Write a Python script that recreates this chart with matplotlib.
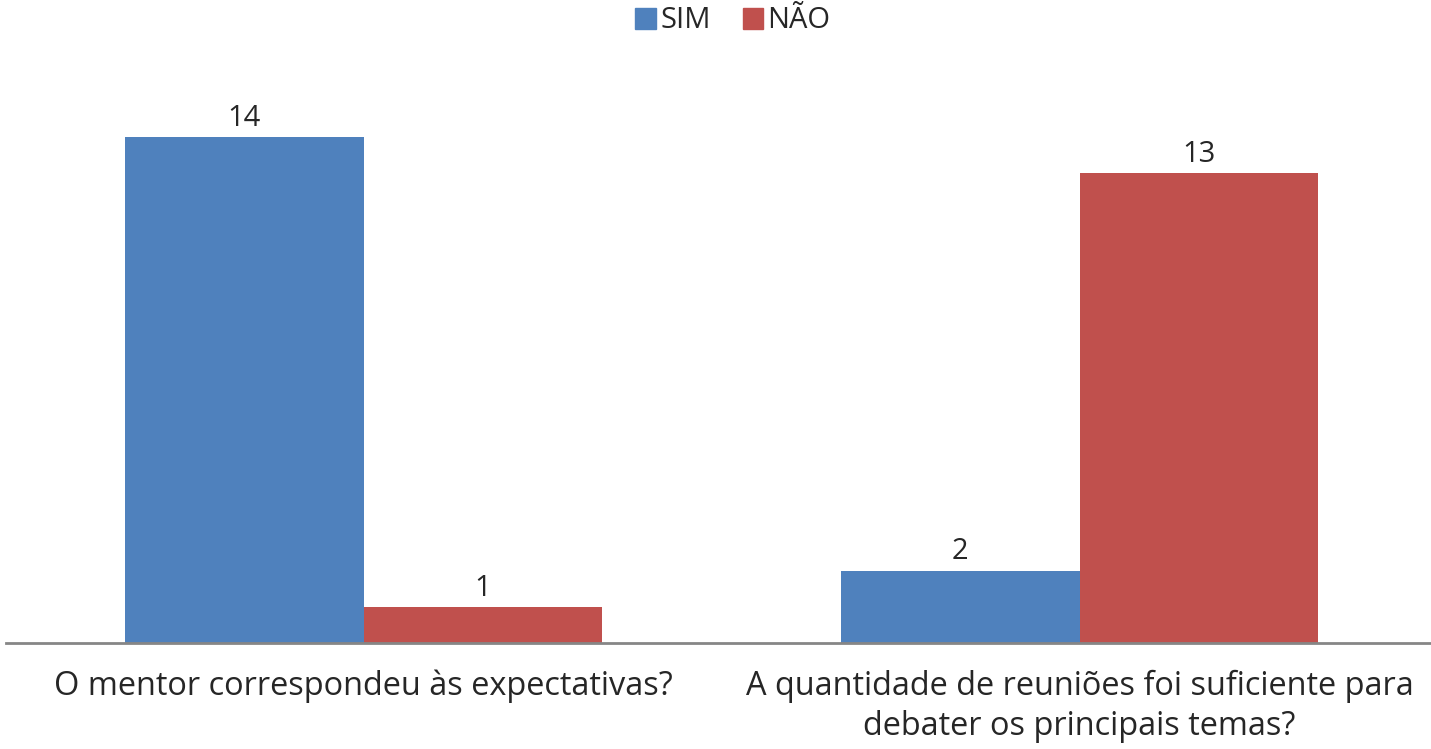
import matplotlib
matplotlib.use('Agg')
import matplotlib.pyplot as plt
import numpy as np
from matplotlib.patches import Patch

categories = ['O mentor correspondeu às expectativas?',
              'A quantidade de reuniões foi suficiente para\ndebater os principais temas?']
series_names = ['SIM', 'NÃO']
sim = [14, 2]
nao = [1, 13]
colors = ['#4F81BD', '#C0504D']

plt.rcParams['font.family'] = ['Open Sans', 'DejaVu Sans']

fig = plt.figure(figsize=(14.31, 7.49), dpi=100)
ax = fig.add_axes([5.5 / 1431, 106 / 749, 1432 / 1431, 578 / 749])

x = np.arange(len(categories))
w = 0.333
b1 = ax.bar(x - w / 2, sim, w, color=colors[0])
b2 = ax.bar(x + w / 2, nao, w, color=colors[1])

for bars in (b1, b2):
    for r in bars:
        ax.text(r.get_x() + r.get_width() / 2, r.get_height() + 0.12, str(int(r.get_height())),
                ha='center', va='bottom', fontsize=21, color='#262626')

ax.set_xlim(-0.5, 1.5)
ax.set_ylim(0, 16)
ax.set_xticks(x)
ax.set_xticklabels(categories, fontsize=23.4, color='#262626', linespacing=1.3)
ax.tick_params(axis='x', length=0, pad=19)
ax.set_yticks([])
for s in ['top', 'right', 'left']:
    ax.spines[s].set_visible(False)
ax.spines['bottom'].set_color('#868686')
ax.spines['bottom'].set_linewidth(2)

handles = [Patch(color=c) for c in colors]
fig.legend(handles, series_names, loc='center', bbox_to_anchor=(733 / 1431, 1 - 21 / 749), ncol=2,
           frameon=False, fontsize=21, handlelength=0.7, handleheight=0.7,
           handletextpad=0.15, columnspacing=1.1, labelcolor='#262626')

fig.savefig('out.png', dpi=100)
